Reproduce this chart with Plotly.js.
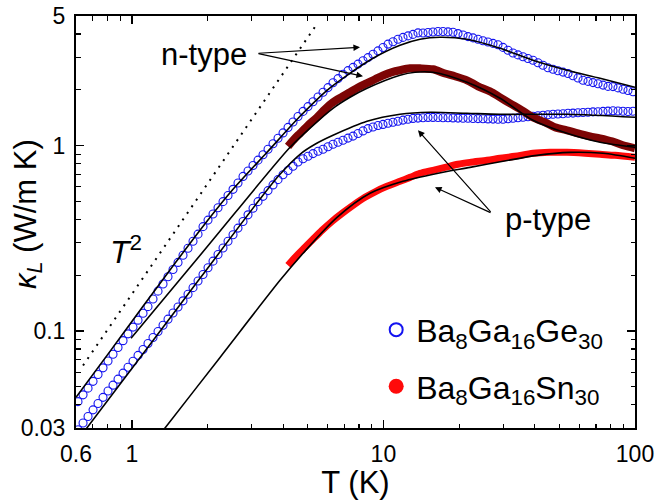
<!DOCTYPE html>
<html><head><meta charset="utf-8">
<script src="https://cdn.plot.ly/plotly-3.0.1.min.js"></script>
<style>html,body{margin:0;padding:0;background:#fff}</style>
</head><body><div id="chart" style="width:658px;height:500px"></div>
<script>
// temperatures of the Ba8Ga16Ge30 data points (both samples)
const geT = [0.6110,0.6400,0.6699,0.7013,0.7340,0.7684,0.8043,0.8420,0.8814,0.9228,
0.9658,1.0111,1.0585,1.1081,1.1597,1.2141,1.2711,1.3307,1.3929,1.4582,
1.5265,1.5977,1.6726,1.7510,1.8331,1.9187,2.0086,2.1027,2.2013,2.3041,
2.4121,2.5251,2.6430,2.7669,2.8966,3.0323,3.1740,3.3227,3.4785,3.6411,
3.8118,3.9905,4.1775,4.3727,4.5777,4.7923,5.0157,5.2508,5.4970,5.7544,
6.0226,6.3052,6.6009,6.9087,7.2328,7.5718,7.9269,8.2965,8.6856,9.0928,
9.5171,9.9632,10.431,10.919,11.429,11.965,12.526,13.111,13.725,14.368,
15.042,15.743,16.482,17.254,18.060,18.906,19.793,20.722,21.689,22.705,
23.768,24.878,26.042,27.264,28.542,29.874,31.273,32.739,34.266,35.870,
37.552,39.311,41.145,43.073,45.092,47.206,49.417,51.733,54.162,56.689,
59.347,62.130,65.039,68.077,71.269,74.612,78.089,81.744,85.584,89.582,
93.780,98.175];
// Ba8Ga16Ge30 n-type (upper open circles)
const nGeK = [0.04162,0.04529,0.04922,0.05354,0.05826,0.06332,0.06889,0.07495,0.08155,0.08873,
0.09658,0.10500,0.11446,0.12463,0.13538,0.14897,0.16415,0.17950,0.19630,0.21470,
0.23446,0.25613,0.27970,0.30511,0.33315,0.36566,0.39648,0.42810,0.46190,0.49862,
0.53793,0.58106,0.62915,0.68214,0.72946,0.78087,0.83504,0.89318,0.95628,1.02261,
1.09488,1.17085,1.25343,1.34049,1.43560,1.52929,1.62312,1.72278,1.82846,1.94084,
2.05494,2.18128,2.29807,2.42420,2.53814,2.64110,2.75162,2.86670,2.98289,3.10763,
3.2416,3.3815,3.52737,3.63408,3.74406,3.83353,3.90547,3.97899,4.05383,4.04880,
4.07397,4.09935,4.12491,4.12491,4.10445,4.08409,4.0188,3.9495,3.87171,3.80973,
3.74406,3.67949,3.62055,3.55815,3.49679,3.38569,3.26998,3.15822,3.08449,3.01636,
2.94973,2.88452,2.79631,2.71421,2.63124,2.58263,2.53498,2.49131,2.44840,2.37955,
2.31542,2.25303,2.21972,2.18690,2.15455,2.12000,2.08607,2.08089,2.04754,2.01479,
1.98253,1.95079];
// Ba8Ga16Ge30 p-type (lower open circles)
const pGeK = [0.02935,0.03190,0.03463,0.03758,0.04064,0.04389,0.04748,0.05107,0.05502,0.05929,
0.06379,0.06872,0.07392,0.07955,0.08570,0.09225,0.09950,0.10746,0.11589,0.12510,
0.13490,0.14551,0.15794,0.17143,0.18610,0.20198,0.21955,0.23824,0.25852,0.28060,
0.30473,0.33069,0.35896,0.38972,0.42337,0.45965,0.49862,0.53261,0.57191,0.61383,
0.65547,0.69584,0.73399,0.77328,0.81566,0.84872,0.87654,0.90541,0.93168,0.95507,
0.98521,1.01627,1.04313,1.06938,1.09758,1.12515,1.16207,1.20024,1.23503,1.25986,
1.28354,1.30120,1.31911,1.33559,1.35394,1.37256,1.38628,1.40185,1.40709,1.41235,
1.41940,1.41940,1.41764,1.41412,1.41235,1.41060,1.40709,1.40535,1.40360,1.40012,
1.39838,1.39491,1.39316,1.38970,1.38797,1.38628,1.39491,1.40360,1.41235,1.42117,
1.43004,1.43894,1.44791,1.45694,1.46600,1.47514,1.48065,1.48616,1.49357,1.49729,
1.50289,1.50851,1.51412,1.51978,1.52356,1.52925,1.53497,1.54071,1.53688,1.53116,
1.52736,1.53306];
// Ba8Ga16Sn30 n-type (dark red)
const nSnT = [4.177,4.453,4.662,5.015,5.446,5.861,6.306,6.786,7.367,7.925,8.607,9.261,9.963,10.82,11.64,12.76,13.98,15.74,17.57,19.25,21.49,23.77,26.53,29.08,31.86,35.56,39.31,43.88,48.53,53.67,59.35,66.26,72.61,81.0,89.6,100];
const nSnK = [0.991,1.095,1.165,1.287,1.42,1.570,1.712,1.82,1.94,2.06,2.17,2.28,2.39,2.49,2.55,2.61,2.61,2.58,2.45,2.365,2.25,2.088,1.962,1.82,1.69,1.55,1.42,1.335,1.25,1.21,1.165,1.122,1.095,1.055,1.004,0.967];
// Ba8Ga16Sn30 p-type (red)
const pSnT = [4.177,4.494,4.88,5.25,5.70,6.25,6.85,7.572,8.45,9.35,10.33,11.64,12.76,13.98,15.74,17.57,19.79,22.09,25.81,29.08,33.35,39.31,45.94,53.67,63.28,72.61,83.28,100];
const pSnK = [0.226,0.2529,0.2828,0.3124,0.349,0.3906,0.431,0.476,0.526,0.567,0.603,0.642,0.674,0.708,0.736,0.763,0.793,0.812,0.833,0.854,0.876,0.909,0.920,0.920,0.909,0.897,0.886,0.865];
// model fits (black lines)
const nGeFitT = [0.600,0.819,1.1081,1.4845,1.9898,2.5251,3.4462,4.662,5.9688,7.168,9.0928,11.641,13.982,16.788,21.49,29.08,39.311,53.67,72.61,100];
const nGeFitK = [0.04388,0.0777,0.13589,0.23185,0.3907,0.58106,0.92015,1.43894,1.98733,2.39425,2.9571,3.47517,3.74406,3.83813,3.74406,3.34807,2.88452,2.54761,2.30664,2.06262];
const nSnFitT = [0.9927,2.0459,4.255,5.202,6.3052,7.3672,8.607,11.641,13.357,15.743,21.49,29.08,39.311,53.67,72.61,100];
const nSnFitK = [0.09131,0.2972,0.97911,1.27088,1.58922,1.82166,2.03713,2.39425,2.48509,2.48509,2.19444,1.7992,1.36928,1.16496,1.04183,0.97911];
const pGeFitT = [0.600,1.1081,1.8664,3.2036,3.8815,4.662,5.347,6.3052,8.607,11.641,15.318,21.49,29.08,53.67,100];
const pGeFitK = [0.0251,0.07541,0.19243,0.50674,0.70018,0.89767,1.01627,1.13645,1.35236,1.47514,1.51221,1.49357,1.47514,1.47514,1.42117];
const pSnFitT = [1.181,1.342,2.242,3.882,4.792,6.541,8.846,11.96,16.33,22.09,29.88,40.78,55.17,74.63,100];
const pSnFitK = [0.0236,0.0295,0.0721,0.1877,0.2625,0.410,0.553,0.642,0.708,0.763,0.823,0.886,0.920,0.909,0.854];
// T^2 guide line
const t2T = [0.640, 5.50];
const t2K = [0.0652, 4.62];
// ticks
const xTickVals = [0.6, 1, 10, 100];
const xTickText = ['0.6', '1', '10', '100'];
const yTickVals = [0.03, 0.1, 1, 5];
const yTickText = ['0.03', '0.1', '1', '5'];
const xMinor = [0.7,0.8,0.9,2,3,4,5,6,7,8,9,20,30,40,50,60,70,80,90];
const yMinor = [0.04,0.05,0.06,0.07,0.08,0.09,0.2,0.3,0.4,0.5,0.6,0.7,0.8,0.9,2,3,4];
const legendNames = ['Ba<sub>8</sub>Ga<sub>16</sub>Ge<sub>30</sub>', 'Ba<sub>8</sub>Ga<sub>16</sub>Sn<sub>30</sub>'];

const BLUE = '#1414f0', MAROON = '#7d0505', RED = '#ff0a0a';
const FONT = 'Liberation Sans, Arial, sans-serif';

function fit(x, y) {
  return {x: x, y: y, type: 'scatter', mode: 'lines', showlegend: false, hoverinfo: 'skip',
    line: {color: '#000', width: 1.6, shape: 'spline', smoothing: 0.8}};
}
const circ = {symbol: 'circle-open', size: 8, color: BLUE, line: {width: 1.1, color: BLUE}};
const traces = [
  {x: t2T, y: t2K, type: 'scatter', mode: 'lines', showlegend: false,
   line: {color: '#000', width: 2, dash: '2px,6px'}},
  {x: geT, y: nGeK, type: 'scatter', mode: 'markers', showlegend: false, marker: circ},
  {x: geT, y: pGeK, type: 'scatter', mode: 'markers', showlegend: false, marker: circ},
  {x: nSnT, y: nSnK, type: 'scatter', mode: 'lines', showlegend: false,
   line: {color: MAROON, width: 8, shape: 'spline', smoothing: 0.8}},
  {x: pSnT, y: pSnK, type: 'scatter', mode: 'lines', showlegend: false,
   line: {color: RED, width: 7, shape: 'spline', smoothing: 0.8}},
  fit(nGeFitT, nGeFitK), fit(nSnFitT, nSnFitK), fit(pGeFitT, pGeFitK), fit(pSnFitT, pSnFitK),
  {x: [null], y: [null], type: 'scatter', mode: 'markers', name: legendNames[0], legendgroup: 'a',
   marker: {symbol: 'circle-open', size: 13, color: BLUE, line: {width: 2, color: BLUE}}},
  {x: [null], y: [null], type: 'scatter', mode: 'markers', name: legendNames[1], legendgroup: 'b',
   marker: {symbol: 'circle', size: 15, color: RED}}
];

function arrow(x, y, ax, ay) {
  return {xref: 'paper', yref: 'paper', x: x, y: y, ax: ax, ay: ay, text: '', showarrow: true,
    arrowhead: 2, arrowsize: 1.1, arrowwidth: 1.2, arrowcolor: '#000', standoff: 0, startstandoff: 0,
    font: {size: 1}};
}
const annotations = [
  {xref: 'paper', yref: 'paper', x: 0.229, y: 0.906, text: 'n-type', showarrow: false,
   font: {family: FONT, size: 31, color: '#000'}, xanchor: 'center', yanchor: 'middle'},
  {xref: 'paper', yref: 'paper', x: 0.844, y: 0.506, text: 'p-type', showarrow: false,
   font: {family: FONT, size: 31, color: '#000'}, xanchor: 'center', yanchor: 'middle'},
  {xref: 'paper', yref: 'paper', x: 0.090, y: 0.433, text: '<i>T</i><sup>2</sup>', showarrow: false,
   font: {family: FONT, size: 32, color: '#000'}, xanchor: 'center', yanchor: 'middle'},
  {xref: 'paper', yref: 'paper', x: -0.086, y: 0.519, text: '<i>κ</i><sub><i>L</i></sub> (W/m K)',
   showarrow: false, textangle: -90, font: {family: FONT, size: 31, color: '#000'},
   xanchor: 'center', yanchor: 'middle'},
  arrow(0.5081, 0.9240, -103, 6),
  arrow(0.5134, 0.8537, -106, -23),
  arrow(0.6118, 0.7226, 74, 83),
  arrow(0.6422, 0.5842, 57, 26)
];

const axisCommon = {
  type: 'log', showgrid: false, zeroline: false, showline: true, linewidth: 2, linecolor: '#000',
  mirror: 'ticks', ticks: 'inside', ticklen: 8, tickwidth: 1.5, tickcolor: '#000',
  tickfont: {family: FONT, size: 23, color: '#000'}, tickmode: 'array', ticklabelstandoff: 4
};
const layout = {
  width: 658, height: 500, margin: {l: 76, r: 23, t: 16, b: 72},
  paper_bgcolor: '#fff', plot_bgcolor: '#fff',
  font: {family: FONT, color: '#000'},
  xaxis: Object.assign({}, axisCommon, {
    range: [Math.log10(0.6), 2], tickvals: xTickVals, ticktext: xTickText,
    minor: {ticks: 'inside', ticklen: 4.5, tickwidth: 1.2, tickcolor: '#000', tickvals: xMinor},
    title: {text: 'T (K)', font: {family: FONT, size: 31, color: '#000'}, standoff: 2}
  }),
  yaxis: Object.assign({}, axisCommon, {
    range: [Math.log10(0.03), Math.log10(5)], tickvals: yTickVals, ticktext: yTickText,
    minor: {ticks: 'inside', ticklen: 4.5, tickwidth: 1.2, tickcolor: '#000', tickvals: yMinor}
  }),
  showlegend: true,
  legend: {x: 0.537, y: 0.305, xanchor: 'left', yanchor: 'top', bgcolor: 'rgba(0,0,0,0)',
    font: {family: FONT, size: 32, color: '#000'}, traceorder: 'grouped', tracegroupgap: 12},
  annotations: annotations
};
Plotly.newPlot('chart', traces, layout, {staticPlot: true, displayModeBar: false});
</script>
</body></html>
